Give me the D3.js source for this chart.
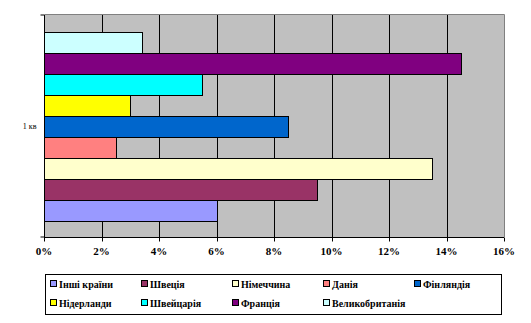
<!DOCTYPE html>
<html>
<head>
<meta charset="utf-8">
<script src="https://cdn.jsdelivr.net/npm/d3@7"></script>
<style>
  html, body { margin: 0; padding: 0; background: #fff; }
  svg { display: block; }
  svg text { font-family: "Liberation Serif", "Times New Roman", "DejaVu Serif", serif; }
</style>
</head>
<body>
<svg id="chart" width="531" height="323"></svg>
<script>
// Share of each country, first quarter
const category = "1 кв";
const countries = ["Інші країни", "Швеція", "Німеччина", "Данія", "Фінляндія",
                   "Нідерланди", "Швейцарія", "Франція", "Великобританія"];
const shares = [0.060, 0.095, 0.135, 0.025, 0.085, 0.030, 0.055, 0.145, 0.034];
const colors = ["#9999FF", "#993366", "#FFFFCC", "#FF8080", "#0066CC",
                "#FFFF00", "#00FFFF", "#800080", "#CCFFFF"];
const xTicks = [0, 0.02, 0.04, 0.06, 0.08, 0.10, 0.12, 0.14, 0.16];

const serif = '"Liberation Serif", "Times New Roman", "DejaVu Serif", serif';
const svg = d3.select("#chart");
const plot = { left: 44, right: 504, top: 15, bottom: 237 };

const x = d3.scaleLinear().domain([0, 0.16]).range([plot.left, plot.right]);
const snap = v => Math.round(v) + 0.5;

// Bars sit in a centred group; first series at the bottom
const barH = 21;
const groupH = barH * countries.length;
const groupTop = plot.top + (plot.bottom - plot.top - groupH) / 2;
const y = d3.scaleBand()
  .domain(countries.slice().reverse())
  .range([groupTop, groupTop + groupH])
  .padding(0);

// Plot background
svg.append("rect")
  .attr("x", plot.left).attr("y", plot.top)
  .attr("width", plot.right - plot.left).attr("height", plot.bottom - plot.top)
  .attr("fill", "#C0C0C0");

// Vertical gridlines
svg.append("g").selectAll("line")
  .data(xTicks.filter(t => t > 0 && t < 0.16))
  .join("line")
  .attr("x1", d => snap(x(d))).attr("x2", d => snap(x(d)))
  .attr("y1", plot.top).attr("y2", plot.bottom)
  .attr("stroke", "#000").attr("stroke-width", 1);

// Plot frame (top and right)
svg.append("path")
  .attr("d", `M${snap(plot.left)},${snap(plot.top) - 1}H${snap(plot.right)}V${plot.bottom}`)
  .attr("fill", "none").attr("stroke", "#808080").attr("stroke-width", 1);

// Bars
svg.append("g").selectAll("rect")
  .data(countries.map((c, i) => ({ c, v: shares[i], col: colors[i] })))
  .join("rect")
  .attr("x", snap(x(0)))
  .attr("y", d => Math.round(y(d.c)) + 0.5)
  .attr("width", d => Math.round(x(d.v) - x(0)))
  .attr("height", y.bandwidth())
  .attr("fill", d => d.col)
  .attr("stroke", "#000").attr("stroke-width", 1);

// X axis
const xAxis = d3.axisBottom(x)
  .tickValues(xTicks)
  .tickFormat(d3.format(".0%"))
  .tickSize(4)
  .tickSizeOuter(0)
  .offset(0);
const gx = svg.append("g")
  .attr("transform", `translate(0,${snap(plot.bottom)})`)
  .attr("font-family", serif)
  .call(xAxis);
gx.select(".domain").attr("stroke", "#000");
gx.selectAll(".tick line").attr("stroke", "#000")
  .attr("transform", d => `translate(${snap(x(d)) - x(d)},0)`);
gx.selectAll(".tick text")
  .attr("y", 10)
  .style("font-family", serif)
  .attr("font-weight", "bold")
  .attr("font-size", 11)
  .attr("fill", "#000");

// Y axis: single category
const yCat = d3.scaleBand().domain([category]).range([plot.top, plot.bottom]);
const yAxis = d3.axisLeft(yCat).tickSize(0).tickSizeOuter(4).offset(0);
const gy = svg.append("g")
  .attr("transform", `translate(${snap(plot.left)},0)`)
  .attr("font-family", serif)
  .call(yAxis);
gy.select(".domain").attr("stroke", "#000");
gy.selectAll(".tick text")
  .attr("x", -8)
  .style("font-family", serif)
  .attr("font-size", 8)
  .attr("fill", "#000");

// Legend
const legend = svg.append("g");
legend.append("rect")
  .attr("x", 45.5).attr("y", 274.5).attr("width", 456).attr("height", 40)
  .attr("fill", "#fff").attr("stroke", "#000").attr("stroke-width", 1);
const item = legend.selectAll("g.item")
  .data(countries.map((c, i) => ({ c, col: colors[i], i })))
  .join("g")
  .attr("class", "item")
  .attr("transform", d => `translate(${50 + (d.i % 5) * 91},${d.i < 5 ? 284 : 303})`);
item.append("rect")
  .attr("x", 0.5).attr("y", -3.5).attr("width", 6).attr("height", 6)
  .attr("fill", d => d.col).attr("stroke", "#000").attr("stroke-width", 1);
item.append("text")
  .attr("x", 9).attr("y", 0).attr("dy", "0.35em")
  .style("font-family", serif)
  .attr("font-weight", "bold").attr("font-size", 10)
  .attr("fill", "#000")
  .text(d => d.c);
</script>
</body>
</html>
